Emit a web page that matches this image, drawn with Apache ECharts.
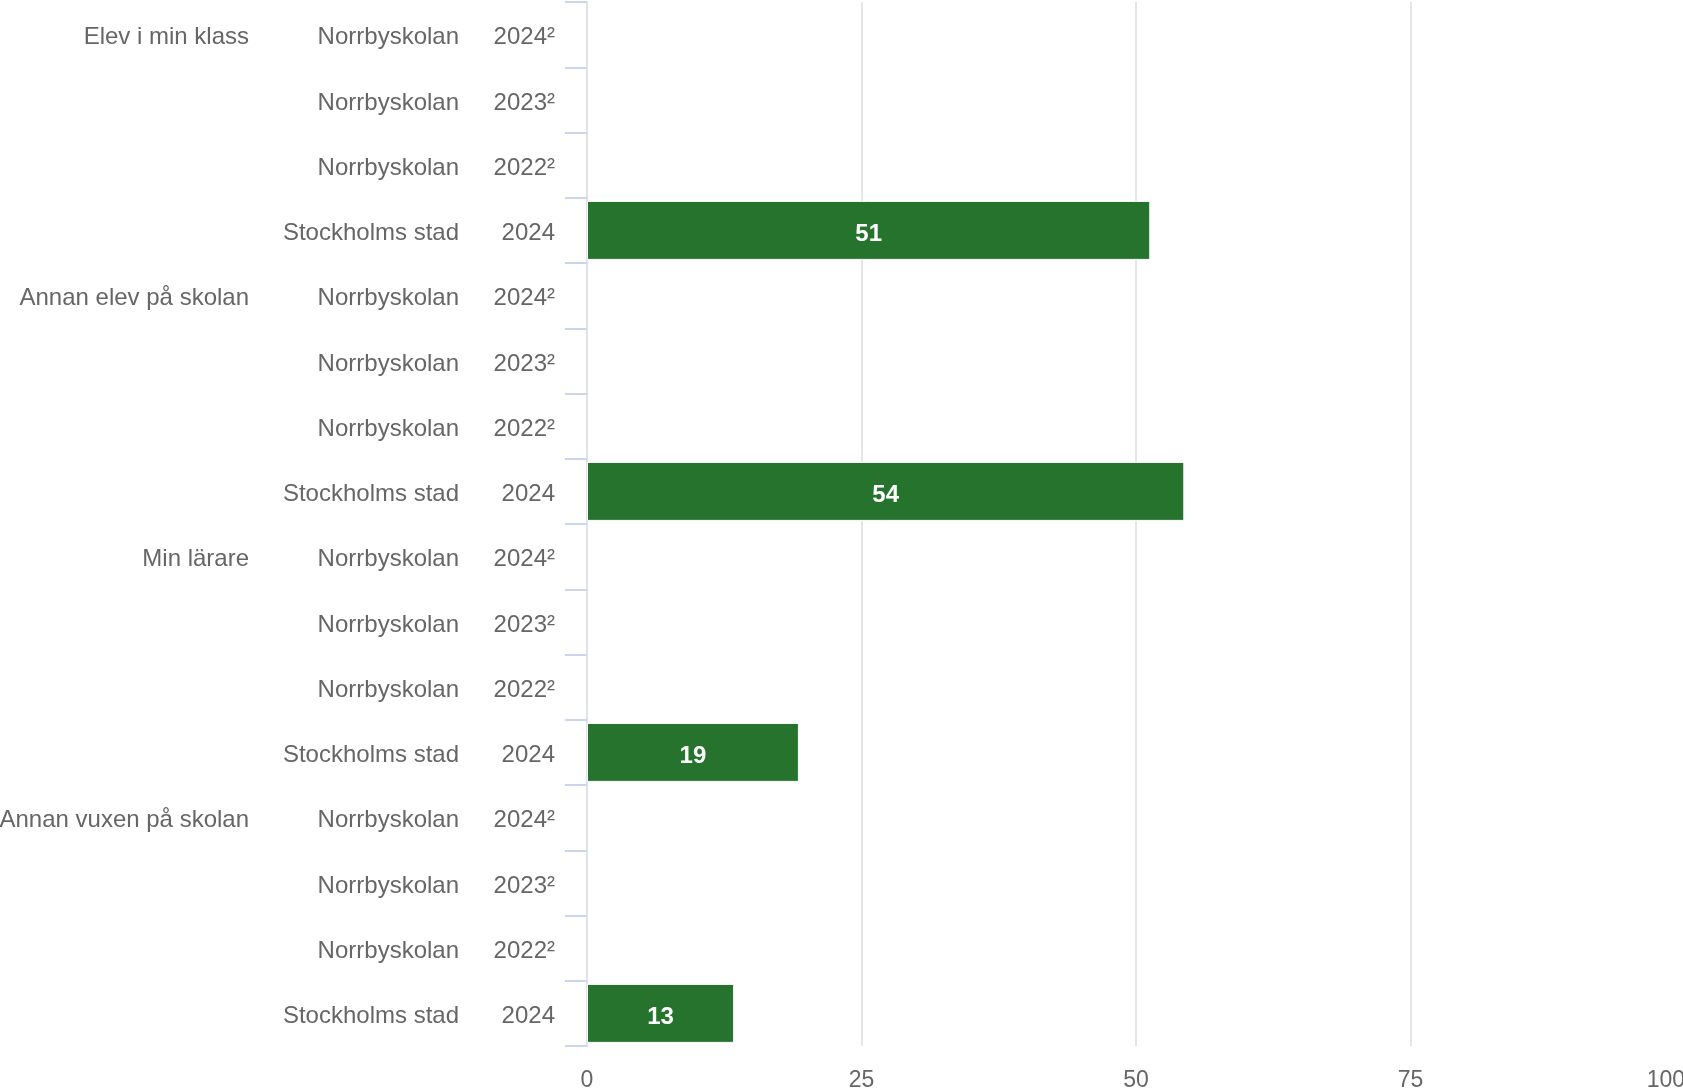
<!DOCTYPE html>
<html>
<head>
<meta charset="utf-8">
<script src="https://cdn.jsdelivr.net/npm/echarts@6/dist/echarts.min.js"></script>
<style>
  html, body { margin: 0; padding: 0; background: #fff; }
  #chart { width: 1683px; height: 1092px; }
</style>
</head>
<body>
<div id="chart"></div>
<script>
var groups = ['Elev i min klass', 'Annan elev på skolan', 'Min lärare', 'Annan vuxen på skolan'];
var units = ['Norrbyskolan', 'Norrbyskolan', 'Norrbyskolan', 'Stockholms stad'];
var years = ['2024²', '2023²', '2022²', '2024'];
// Norrbyskolan has no reported values, only Stockholms stad
var norrbyValues = [null, null, null, null];
// bar lengths, labels show them rounded
var stadValues = [51.3, 54.4, 19.3, 13.4];
var valueTicks = [0, 25, 50, 75, 100];

var font = '"Liberation Sans", Arial, sans-serif';
var rows = [];
var values = [];
groups.forEach(function (g, gi) {
  units.forEach(function (u, ui) {
    rows.push({ group: ui === 0 ? g : '', unit: u, year: years[ui] });
    values.push(ui === 3 ? stadValues[gi] : norrbyValues[ui]);
  });
});
var idx = rows.map(function (r, i) { return String(i); });

function catAxis(field, margin, showLine) {
  return {
    type: 'category',
    inverse: true,
    position: 'left',
    data: idx,
    axisLine: { show: showLine, lineStyle: { color: '#dfe2ea', width: 2 } },
    axisTick: { show: showLine, length: 22, lineStyle: { color: '#ccd6eb', width: 2 } },
    axisLabel: {
      interval: 0,
      margin: margin,
      fontSize: 24,
      fontFamily: font,
      color: '#666666',
      formatter: function (v, i) {
        var t = rows[i][field];
        return t ? '{t|' + t + '}' : '';
      },
      rich: {
        t: { fontSize: 24, fontFamily: font, color: '#666666', padding: [6, 0, 0, 0] }
      }
    },
    splitLine: { show: false }
  };
}

var myChart = echarts.init(document.getElementById('chart'));
myChart.setOption({
  animation: false,
  grid: { left: 587, right: -2, top: 2, bottom: 46, containLabel: false, outerBoundsMode: 'none' },
  xAxis: {
    type: 'value',
    min: valueTicks[0],
    max: valueTicks[valueTicks.length - 1],
    interval: 25,
    axisLine: { show: false },
    axisTick: { show: false },
    axisLabel: {
      fontSize: 23,
      fontFamily: font,
      color: '#666666',
      margin: 23,
      alignMaxLabel: 'right'
    },
    splitLine: { lineStyle: { color: '#e6e6e6', width: 2 } }
  },
  yAxis: [
    catAxis('year', 32, true),
    catAxis('unit', 128, false),
    catAxis('group', 338, false)
  ],
  series: [
    {
      type: 'bar',
      yAxisIndex: 0,
      data: values,
      barWidth: 59,
      itemStyle: { color: '#26732e', borderColor: '#ffffff', borderWidth: 1 },
      label: {
        show: true,
        position: 'inside',
        offset: [0, 4],
        color: '#ffffff',
        fontWeight: 'bold',
        fontSize: 24,
        fontFamily: font,
        formatter: function (p) { return Math.round(p.value); }
      }
    }
  ]
});
</script>
</body>
</html>
